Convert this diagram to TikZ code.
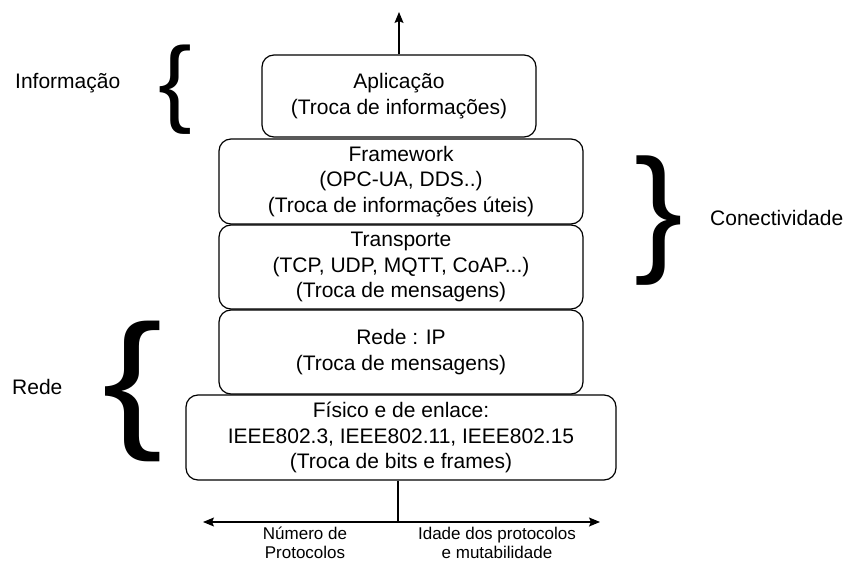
\documentclass[tikz,border=0pt]{standalone}
\usepackage{fontspec}
\setmainfont{Liberation Sans}
\usetikzlibrary{arrows.meta}
\begin{document}
\begin{tikzpicture}[x=1pt,y=-1pt,
  layer/.style={draw, rounded corners=12pt, line width=1.2pt, align=center,
    font=\fontsize{21}{25.5}\selectfont, inner sep=0pt},
  side/.style={font=\fontsize{21}{25.5}\selectfont, inner sep=0pt},
  axislabel/.style={font=\fontsize{17}{19}\selectfont, align=center, inner sep=0pt, anchor=south},
  bigbrace/.style={anchor=base, inner sep=0pt, transform shape},
  link/.style={line width=1.2pt},
  tip/.style={-{Stealth[length=11pt,width=9pt,inset=2pt]}}]
\useasboundingbox (0,0) rectangle (845,561);

% protocol layers, top to bottom
\node[layer, minimum width=274, minimum height=82] (app) at (399,96)
  {Aplicação\\(Troca de informações)};
\node[layer, minimum width=364, minimum height=85] (fw) at (401,181.5)
  {Framework\\(OPC-UA, DDS..)\\(Troca de informações úteis)};
\node[layer, minimum width=364, minimum height=84] (tr) at (401,267)
  {Transporte\\(TCP, UDP, MQTT, CoAP...)\\(Troca de mensagens)};
\node[layer, minimum width=364, minimum height=84] (net) at (401,352)
  {Rede : IP\\(Troca de mensagens)};
\node[layer, minimum width=430, minimum height=85] (phy) at (401,437.5)
  {Físico e de enlace:\\IEEE802.3, IEEE802.11, IEEE802.15\\(Troca de bits e frames)};

% upward arrow above the application layer
\coordinate (top) at (399,12);
\draw[link, tip] (app.north) -- (top);

% horizontal axis below the physical layer
\coordinate (stem) at (398,522);
\coordinate (axl) at (203,522);
\coordinate (axr) at (600,522);
\draw[link] (phy.south -| stem) -- (stem);
\draw[link, tip] (stem) -- (axl);
\draw[link, tip] (stem) -- (axr);

\node[axislabel] (nprot) at (305,559) {Número de\\Protocolos};
\node[axislabel] (idade) at (497,559) {Idade dos protocolos\\e mutabilidade};

% grouping braces and their labels
\node[bigbrace, font=\fontsize{96}{96}\selectfont, xscale=1.05] (b1) at (175,115) {\{};
\node[bigbrace, font=\fontsize{139}{139}\selectfont, xscale=1.05] (b2) at (659,256) {\}};
\node[bigbrace, font=\fontsize{151}{151}\selectfont, xscale=1.2] (b3) at (133,430) {\{};

\node[side, anchor=west] (info) at (15,83) {Informação};
\node[side, anchor=west] (conn) at (710,218) {Conectividade};
\node[side, anchor=west] (rede) at (12,387) {Rede};
\end{tikzpicture}
\end{document}
